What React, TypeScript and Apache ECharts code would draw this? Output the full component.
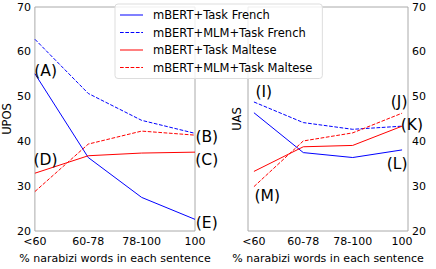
import React, { useEffect, useRef } from "react";
import * as echarts from "echarts";

const categories = ["<60", "60-78", "78-100", "100"];
const seriesNames = [
  "mBERT+Task French",
  "mBERT+MLM+Task French",
  "mBERT+Task Maltese",
  "mBERT+MLM+Task Maltese",
];
// UPOS (left panel)
const uposTaskFrench = [55.1, 36.4, 27.5, 22.6];
const uposMlmFrench = [62.8, 50.7, 44.7, 41.8];
const uposTaskMaltese = [32.9, 36.8, 37.4, 37.6];
const uposMlmMaltese = [28.8, 39.4, 42.3, 41.4];
// UAS (right panel)
const uasTaskFrench = [46.4, 37.5, 36.4, 38.1];
const uasMlmFrench = [48.8, 44.2, 42.7, 43.4];
const uasTaskMaltese = [33.3, 38.8, 39.1, 43.4];
const uasMlmMaltese = [29.9, 40.1, 41.9, 46.3];
// annotations
const leftNotes = ["(A)", "(B)", "(C)", "(D)", "(E)"];
const leftNoteX = [0.2, 3.22, 3.22, 0.2, 3.22];
const leftNoteY = [55.7, 41.0, 35.8, 35.8, 21.7];
const rightNotes = ["(I)", "(J)", "(K)", "(L)", "(M)"];
const rightNoteX = [0.2, 2.94, 3.2, 2.9, 0.27];
const rightNoteY = [51.0, 48.8, 43.7, 34.9, 27.9];

const FONT = "DejaVu Sans";
const colors = ["#0000ff", "#0000ff", "#ff0000", "#ff0000"];
const dashed = [false, true, false, true];

const SOLID_ICON = "path://M0,0H23V1H0Z";
const DASH_ICON =
  "path://M0,0H3.7V1H0Z M5.3,0H9V1H5.3Z M10.6,0H14.3V1H10.6Z M15.9,0H19.6V1H15.9Z M21.2,0H23V1H21.2Z";

export default function App() {
  const ref = useRef<HTMLDivElement>(null);
  useEffect(() => {
    if (!ref.current) return;
    const chart = echarts.init(ref.current, null, { renderer: "svg" });
    const leftData = [uposTaskFrench, uposMlmFrench, uposTaskMaltese, uposMlmMaltese];
    const rightData = [uasTaskFrench, uasMlmFrench, uasTaskMaltese, uasMlmMaltese];
    const mkLine = (vals: number[], i: number, idx: number) => ({
      name: seriesNames[i],
      type: "line",
      xAxisIndex: idx,
      yAxisIndex: idx,
      symbol: "none",
      showSymbol: false,
      silent: true,
      data: vals.map((v, k) => [k, v]),
      lineStyle: {
        color: colors[i],
        width: 1,
        type: dashed[i] ? [3.7, 1.6] : "solid",
      },
      itemStyle: { color: colors[i] },
      emphasis: { disabled: true },
      z: 2,
    });
    const mkNotes = (names: string[], xs: number[], ys: number[], idx: number) => ({
      type: "scatter",
      xAxisIndex: idx,
      yAxisIndex: idx,
      symbolSize: 0,
      clip: false,
      silent: true,
      itemStyle: { opacity: 1 },
      emphasis: { disabled: true },
      data: names.map((n, k) => ({ name: n, value: [xs[k], ys[k]] })),
      label: {
        show: true,
        position: "inside",
        formatter: (p: any) => p.name,
        fontFamily: FONT,
        fontSize: 15.5,
        color: "#000",
        textBorderWidth: 0,
      },
      z: 3,
    });
    const axisCommonX = {
      type: "value",
      interval: 1,
      splitLine: { show: false },
      axisTick: { show: false },
      axisLine: { show: false },
      name: "% narabizi words in each sentence",
      nameLocation: "middle",
      nameGap: 22,
      nameTextStyle: { fontFamily: FONT, fontSize: 11, color: "#000" },
    };
    const labelX = {
      fontFamily: FONT,
      fontSize: 11,
      color: "#000",
      margin: 5,
      showMinLabel: true,
      showMaxLabel: true,
      formatter: (v: number) => categories[Math.round(v)] ?? "",
    };
    const axisCommonY = {
      type: "value",
      min: 20,
      max: 70,
      interval: 10,
      splitLine: { show: false },
      axisTick: { show: false },
      axisLine: { show: false },
      axisLabel: { fontFamily: FONT, fontSize: 11, color: "#000", margin: 4 },
      nameLocation: "middle",
      nameTextStyle: { fontFamily: FONT, fontSize: 11.5, color: "#000" },
    };
    chart.setOption({
      animation: false,
      color: ["#0000ff", "#ff0000"],
      textStyle: { fontFamily: FONT },
      grid: [
        { left: 34, top: 7, width: 161, height: 231, show: true, borderColor: "#aaaaaa", borderWidth: 1, backgroundColor: "transparent" },
        { left: 248, top: 7, width: 160, height: 231, show: true, borderColor: "#aaaaaa", borderWidth: 1, backgroundColor: "transparent" },
      ],
      xAxis: [
        { ...axisCommonX, gridIndex: 0, min: 0, max: 3, axisLabel: labelX },
        {
          ...axisCommonX,
          gridIndex: 1,
          min: -0.12,
          max: 3.12,
          axisLabel: { ...labelX, customValues: [0, 1, 2, 3] },
          axisTick: { show: false, customValues: [0, 1, 2, 3] },
        },
      ],
      yAxis: [
        { ...axisCommonY, gridIndex: 0, position: "left", name: "UPOS", nameGap: 21 },
        { ...axisCommonY, gridIndex: 1, position: "right" },
        {
          ...axisCommonY,
          gridIndex: 1,
          position: "left",
          axisLabel: { show: false },
          name: "UAS",
          nameGap: 5,
        },
      ],
      legend: {
        data: seriesNames.map((n, i) => ({
          name: n,
          icon: dashed[i] ? DASH_ICON : SOLID_ICON,
          itemStyle: { color: colors[i], opacity: 1 },
        })),
        orient: "vertical",
        left: 115,
        top: 4,
        silent: true,
        itemWidth: 23,
        itemHeight: 1,
        itemGap: 3.5,
        padding: [4, 10, 4, 5],
        backgroundColor: "rgba(255,255,255,0.8)",
        borderColor: "#dddddd",
        borderWidth: 1,
        borderRadius: 3,
        textStyle: {
          fontFamily: FONT,
          fontSize: 11.5,
          color: "#000",
          lineHeight: 14,
          padding: [0, 0, 0, 5],
        },
        selectedMode: false,
      },
      series: [
        ...leftData.map((d, i) => mkLine(d, i, 0)),
        ...rightData.map((d, i) => mkLine(d, i, 1)),
        mkNotes(leftNotes, leftNoteX, leftNoteY, 0),
        mkNotes(rightNotes, rightNoteX, rightNoteY, 1),
      ],
    });
    return () => chart.dispose();
  }, []);
  return (
    <div
      ref={ref}
      style={{ position: "fixed", left: 0, top: 0, width: 436, height: 269, background: "#fff" }}
    />
  );
}
